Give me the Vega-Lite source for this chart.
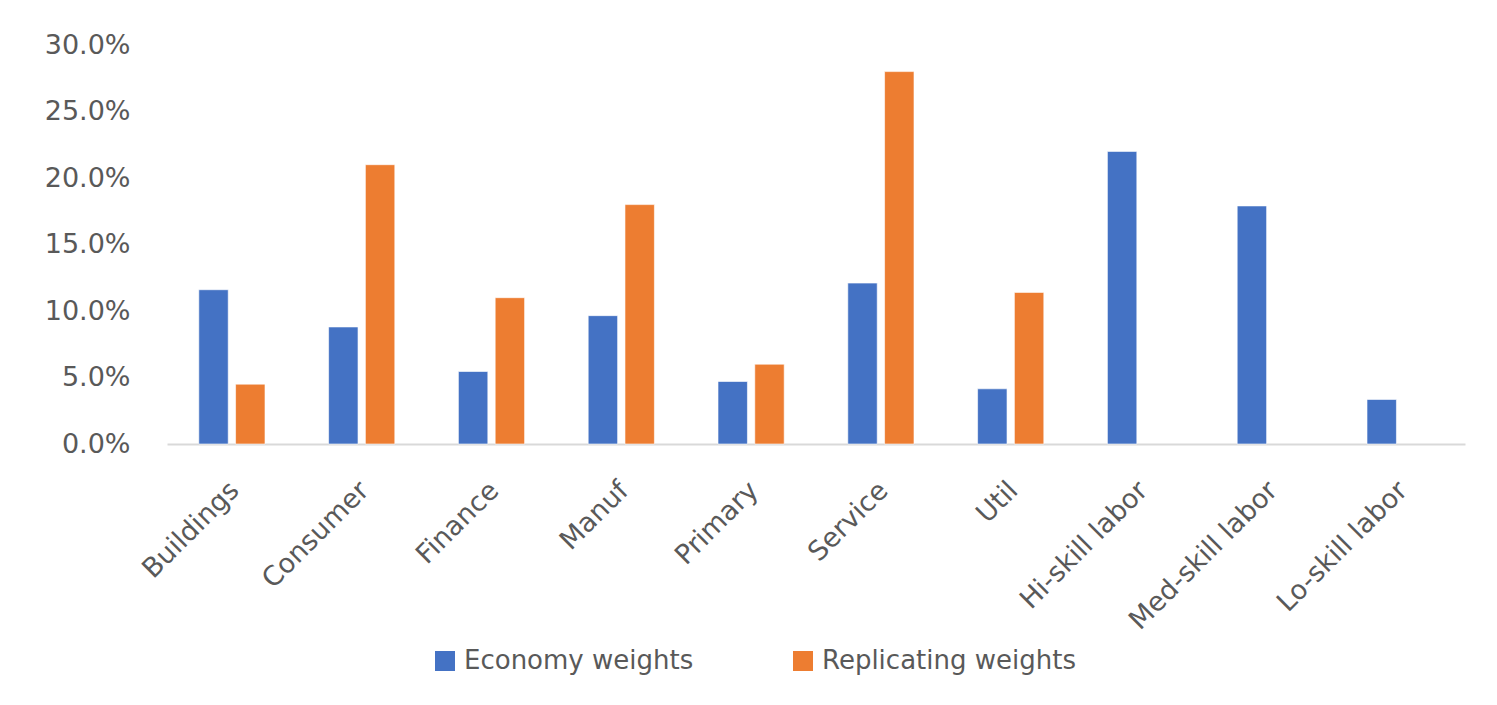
{
  "$schema": "https://vega.github.io/schema/vega-lite/v6.json",
  "width": 1298,
  "height": 399,
  "autosize": {"type": "none"},
  "padding": {"left": 167, "top": 45, "right": 32, "bottom": 261},
  "background": "white",
  "config": {
    "view": {"stroke": null},
    "font": "DejaVu Sans"
  },
  "data": {
    "values": [
      {"category": "Buildings", "series": "Economy weights", "value": 0.116},
      {"category": "Buildings", "series": "Replicating weights", "value": 0.045},
      {"category": "Consumer", "series": "Economy weights", "value": 0.088},
      {"category": "Consumer", "series": "Replicating weights", "value": 0.21},
      {"category": "Finance", "series": "Economy weights", "value": 0.0545},
      {"category": "Finance", "series": "Replicating weights", "value": 0.11},
      {"category": "Manuf", "series": "Economy weights", "value": 0.0965},
      {"category": "Manuf", "series": "Replicating weights", "value": 0.18},
      {"category": "Primary", "series": "Economy weights", "value": 0.047},
      {"category": "Primary", "series": "Replicating weights", "value": 0.06},
      {"category": "Service", "series": "Economy weights", "value": 0.121},
      {"category": "Service", "series": "Replicating weights", "value": 0.28},
      {"category": "Util", "series": "Economy weights", "value": 0.0415},
      {"category": "Util", "series": "Replicating weights", "value": 0.114},
      {"category": "Hi-skill labor", "series": "Economy weights", "value": 0.22},
      {"category": "Med-skill labor", "series": "Economy weights", "value": 0.179},
      {"category": "Lo-skill labor", "series": "Economy weights", "value": 0.0335}
    ]
  },
  "mark": {"type": "bar", "stroke": "white", "strokeWidth": 1, "strokeOpacity": 0.6},
  "encoding": {
    "x": {
      "field": "category",
      "type": "nominal",
      "sort": null,
      "scale": {"paddingInner": 0.49, "paddingOuter": 0.245},
      "axis": {
        "title": null,
        "labelAngle": -45,
        "labelAlign": "right",
        "labelBaseline": "middle",
        "labelPadding": 42,
        "labelOffset": 3,
        "labelFontSize": 27,
        "labelLimit": 0,
        "labelColor": "#595959",
        "ticks": false,
        "tickSize": 0,
        "domainColor": "#D9D9D9",
        "domainWidth": 2,
        "grid": false
      }
    },
    "xOffset": {
      "field": "series",
      "type": "nominal",
      "scale": {"paddingInner": 0.2, "paddingOuter": 0}
    },
    "y": {
      "field": "value",
      "type": "quantitative",
      "scale": {"domain": [0, 0.3], "nice": false},
      "axis": {
        "title": null,
        "format": ".1%",
        "values": [0, 0.05, 0.1, 0.15, 0.2, 0.25, 0.3],
        "domain": false,
        "ticks": false,
        "tickSize": 0,
        "grid": false,
        "labelPadding": 37,
        "labelFontSize": 27,
        "labelColor": "#595959"
      }
    },
    "color": {
      "field": "series",
      "type": "nominal",
      "scale": {
        "domain": ["Economy weights", "Replicating weights"],
        "range": ["#4472C4", "#ED7D31"]
      },
      "legend": {
        "title": null,
        "orient": "none",
        "direction": "horizontal",
        "legendX": 265,
        "legendY": 603,
        "symbolType": "square",
        "symbolSize": 400,
        "symbolStrokeWidth": 0,
        "labelFontSize": 26,
        "labelLimit": 0,
        "labelColor": "#595959",
        "labelOffset": 6,
        "columnPadding": 96
      }
    }
  }
}
